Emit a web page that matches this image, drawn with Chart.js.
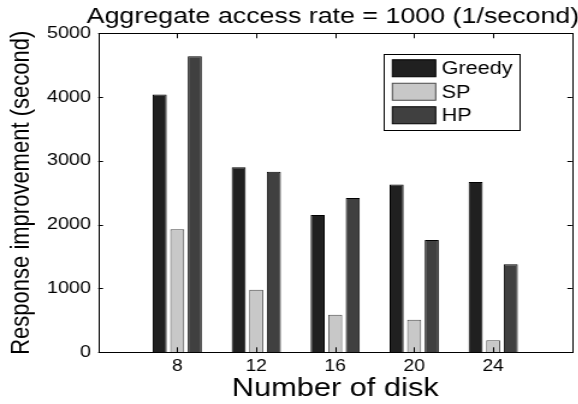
<!DOCTYPE html>
<html>
<head>
<meta charset="utf-8">
<script src="https://cdn.jsdelivr.net/npm/chart.js@4/dist/chart.umd.min.js"></script>
<style>
  html, body { margin: 0; padding: 0; background: #fff; overflow: hidden; }
  /* the figure is drawn at 1/1.2 width and stretched horizontally */
  #wrap {
    position: absolute; left: 0; top: 0;
    width: 481.667px; height: 404px;
    transform: scaleX(1.2); transform-origin: 0 0;
  }
</style>
</head>
<body>
<div id="wrap"><canvas id="chart"></canvas></div>
<script>
// Number of disks on the x axis
const categories = [8, 12, 16, 20, 24];
// Response improvement (second) for each placement scheme
const greedy = [4040, 2900, 2150, 2630, 2670];
const sp     = [1930,  980,  590,  510,  190];
const hp     = [4640, 2830, 2420, 1760, 1380];
// Axis ranges and ticks
const xRange = [4, 28];
const xStep = 4;
const yTicks = [0, 1000, 2000, 3000, 4000, 5000];

const chartTitle = 'Aggregate access rate = 1000 (1/second)';
const xTitle = 'Number of disk';
const yTitle = 'Response improvement (second)';

const FONT = '"Liberation Sans", Arial, Helvetica, sans-serif';
Chart.defaults.font.family = FONT;
Chart.defaults.color = '#000';

const toPoints = vals => categories.map((c, i) => ({ x: c, y: vals[i] }));

// Box around the plot with inward tick marks on all four sides
const framePlugin = {
  id: 'frame',
  afterDatasetsDraw(chart) {
    const { ctx, chartArea: a, scales: { x, y } } = chart;
    ctx.save();
    ctx.strokeStyle = '#000';
    ctx.lineWidth = 1;
    ctx.beginPath();
    x.ticks.forEach(t => {
      if (!categories.includes(t.value)) return;
      const px = Math.round(x.getPixelForValue(t.value)) + 0.5;
      ctx.moveTo(px, a.bottom); ctx.lineTo(px, a.bottom - 5);
      ctx.moveTo(px, a.top); ctx.lineTo(px, a.top + 5);
    });
    y.ticks.forEach(t => {
      const py = Math.round(y.getPixelForValue(t.value)) + 0.5;
      ctx.moveTo(a.left, py); ctx.lineTo(a.left + 4, py);
      ctx.moveTo(a.right, py); ctx.lineTo(a.right - 4, py);
    });
    ctx.stroke();
    ctx.strokeRect(Math.round(a.left) + 0.5, Math.round(a.top) + 0.5,
                   Math.round(a.right - a.left), Math.round(a.bottom - a.top));
    ctx.restore();
  }
};

// Boxed legend inside the upper right of the plot
const boxLegendPlugin = {
  id: 'boxLegend',
  afterDraw(chart) {
    const { ctx, chartArea: a } = chart;
    const ds = chart.data.datasets;
    const boxW = 113, rowH = 23.5, swW = 36, swH = 17;
    const left = a.right - 44 - boxW, top = a.top + 21;
    const boxH = 76;
    ctx.save();
    ctx.fillStyle = '#fff';
    ctx.fillRect(left, top, boxW, boxH);
    ctx.strokeStyle = '#000';
    ctx.lineWidth = 1;
    ctx.strokeRect(Math.round(left) + 0.5, Math.round(top) + 0.5, boxW, boxH);
    ctx.font = '18px ' + FONT;
    ctx.textBaseline = 'middle';
    ctx.textAlign = 'left';
    ds.forEach((d, i) => {
      const sy = top + 5.5 + i * rowH;
      ctx.fillStyle = d.backgroundColor;
      ctx.fillRect(left + 7.5, sy, swW, swH);
      ctx.strokeStyle = d.borderColor;
      ctx.strokeRect(left + 7.5, sy, swW, swH);
      ctx.fillStyle = '#000';
      ctx.fillText(d.label, left + 7.5 + swW + 5, sy + swH / 2 + 1);
    });
    ctx.restore();
  }
};

new Chart(document.getElementById('chart'), {
  type: 'bar',
  data: {
    datasets: [
      { label: 'Greedy', data: toPoints(greedy), backgroundColor: '#202020', borderColor: '#000', borderWidth: 1 },
      { label: 'SP',     data: toPoints(sp),     backgroundColor: '#c8c8c8', borderColor: '#4a4a4a', borderWidth: 1 },
      { label: 'HP',     data: toPoints(hp),     backgroundColor: '#404040', borderColor: '#000', borderWidth: 1 }
    ]
  },
  options: {
    responsive: true,
    maintainAspectRatio: false,
    animation: false,
    devicePixelRatio: 1,
    categoryPercentage: 0.667,
    barPercentage: 0.8,
    layout: { padding: 0 },
    plugins: {
      legend: { display: false },
      tooltip: { enabled: false },
      title: {
        display: true,
        text: chartTitle,
        align: 'end',
        color: '#000',
        font: { size: 22.3, weight: 'normal' },
        padding: { top: 3, bottom: 3.5 }
      }
    },
    scales: {
      x: {
        type: 'linear',
        min: xRange[0],
        max: xRange[1],
        offset: false,
        grid: { display: false, drawTicks: false },
        border: { display: false },
        ticks: {
          stepSize: xStep,
          padding: 5,
          font: { size: 16 },
          color: '#000',
          callback: v => categories.includes(v) ? String(v) : ''
        },
        title: {
          display: true,
          text: xTitle,
          color: '#000',
          font: { size: 25.6 },
          padding: { top: 0, bottom: 0 }
        },
        afterFit: s => { s.height = 51.7; }
      },
      y: {
        min: 0,
        max: 5000,
        grid: { display: false, drawTicks: false },
        border: { display: false },
        afterBuildTicks: s => { s.ticks = yTicks.map(v => ({ value: v })); },
        ticks: { padding: 6, font: { size: 16.5 }, color: '#000', callback: v => String(v) },
        title: {
          display: true,
          text: yTitle,
          color: '#000',
          font: { size: 22 },
          padding: { top: 5, bottom: 0 }
        },
        afterFit: s => { s.width = 81.7; }
      },
      // empty right-hand margin strip that keeps the plot clear of the canvas edge
      margin: {
        position: 'right',
        display: true,
        grid: { display: false, drawTicks: false },
        border: { display: false },
        ticks: { display: false },
        afterFit: s => { s.width = 5.9; }
      }
    }
  },
  plugins: [framePlugin, boxLegendPlugin]
});
</script>
</body>
</html>
